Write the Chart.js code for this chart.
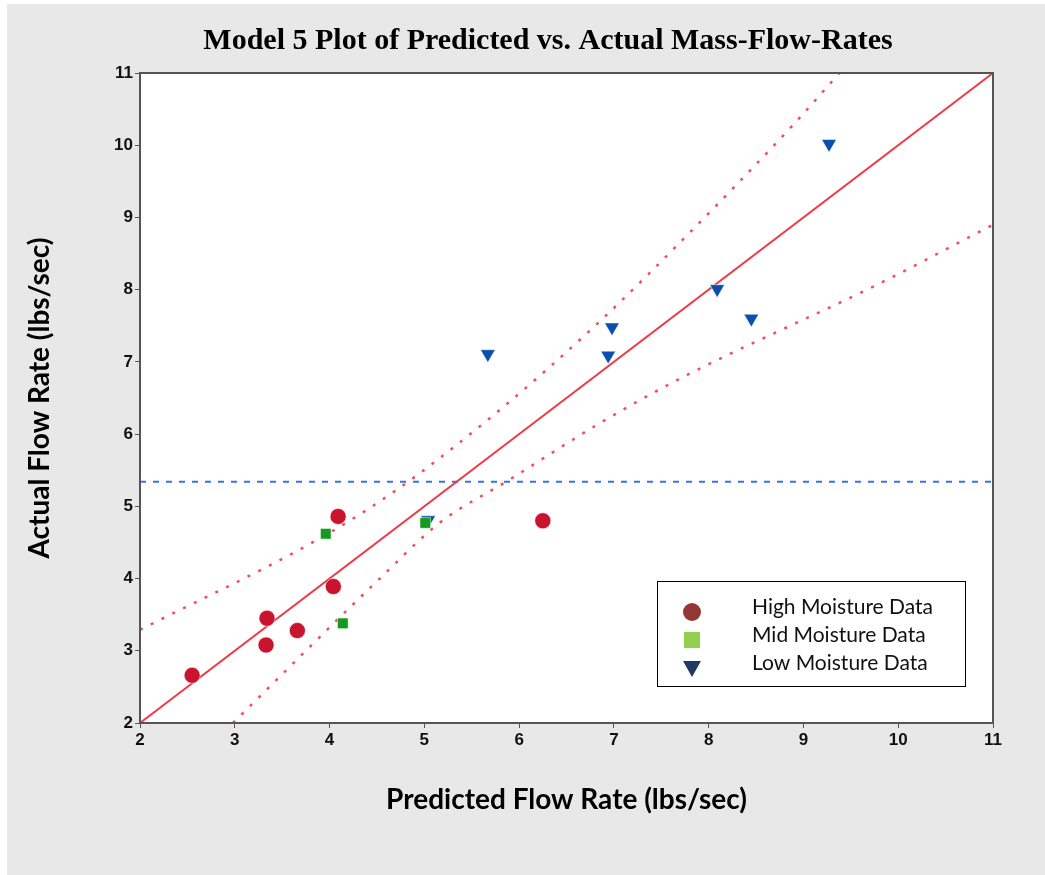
<!DOCTYPE html>
<html>
<head>
<meta charset="utf-8">
<script src="https://cdn.jsdelivr.net/npm/chart.js@4"></script>
<style>
  body { margin: 0; background: #fff; }
  #wrap { width: 1045px; height: 875px; }
</style>
</head>
<body>
<div id="wrap"><canvas id="myChart" width="1045" height="875"></canvas></div>
<script>
// values
var highX = [2.55, 3.33, 3.34, 3.66, 4.04, 4.09, 6.25];
var highY = [2.66, 3.08, 3.45, 3.28, 3.89, 4.86, 4.80];
var midX = [3.96, 4.14, 5.01];
var midY = [4.62, 3.38, 4.77];
var lowX = [5.04, 5.67, 6.94, 6.98, 8.09, 8.45, 9.27];
var lowY = [4.81, 7.11, 7.09, 7.48, 8.01, 7.60, 10.02];

// fitted line and interval bands
var fitX = [2, 11];
var fitY = [2, 11];
var upperX = [2, 3.86, 4.71, 5.80, 6.85, 7.80, 8.89, 9.38];
var upperY = [3.29, 4.53, 5.23, 6.34, 7.56, 8.79, 10.28, 11];
var lowerX = [2.98, 4.53, 5.16, 5.90, 6.85, 7.70, 9.81, 11];
var lowerY = [2, 4.0, 4.77, 5.37, 6.15, 6.77, 8.09, 8.9];
var meanX = [2, 11];
var meanY = [5.34, 5.34];

var axisTicks = [2, 3, 4, 5, 6, 7, 8, 9, 10, 11];

function pts(xs, ys) {
    return xs.map(function (x, i) { return { x: x, y: ys[i] }; });
}

// grey page + white plot area
var bgPlugin = {
    id: 'bg',
    beforeDraw: function (chart) {
        var c = chart.ctx, a = chart.chartArea;
        c.save();
        c.fillStyle = '#ffffff';
        c.fillRect(0, 0, chart.width, chart.height);
        c.fillStyle = '#e8e8e8';
        c.fillRect(7, 4, chart.width - 7, chart.height - 4);
        c.fillStyle = '#ffffff';
        c.fillRect(a.left, a.top, a.right - a.left, a.bottom - a.top);
        c.restore();
    },
    afterDraw: function (chart) {
        var c = chart.ctx, a = chart.chartArea;
        c.save();
        // frame
        c.strokeStyle = '#555555';
        c.lineWidth = 2;
        c.strokeRect(a.left, a.top, a.right - a.left, a.bottom - a.top);
        // title
        c.fillStyle = '#000000';
        c.font = 'bold 30px "Liberation Serif", "Times New Roman", serif';
        c.textAlign = 'center';
        c.textBaseline = 'middle';
        c.fillText('Model 5 Plot of Predicted vs. Actual Mass-Flow-Rates', 548, 41);
        c.restore();
    }
};

// legend box inside the plot
var legendPlugin = {
    id: 'boxLegend',
    afterDraw: function (chart) {
        var c = chart.ctx;
        var items = chart.data.datasets.filter(function (d) { return d.legendColor; });
        var bx = 657, by = 581, bw = 308, bh = 105;
        c.save();
        c.fillStyle = '#ffffff';
        c.fillRect(bx, by, bw, bh);
        c.strokeStyle = '#000000';
        c.lineWidth = 1;
        c.strokeRect(bx + 0.5, by + 0.5, bw, bh);
        c.font = '21px Lato, sans-serif';
        c.textBaseline = 'middle';
        c.textAlign = 'left';
        items.forEach(function (d, i) {
            var my = 612 + i * 28;
            var mx = 692;
            c.fillStyle = d.legendColor;
            c.beginPath();
            if (d.pointStyle === 'circle') {
                c.arc(mx, my, 9, 0, Math.PI * 2);
            } else if (d.pointStyle === 'rect') {
                c.rect(mx - 8, my - 8, 16, 16);
            } else {
                c.moveTo(mx - 9, my - 7);
                c.lineTo(mx + 9, my - 7);
                c.lineTo(mx, my + 9);
                c.closePath();
            }
            c.fill();
            c.fillStyle = '#111111';
            c.fillText(d.label, 752, my - 5);
        });
        c.restore();
    }
};

var ctx = document.getElementById('myChart').getContext('2d');
new Chart(ctx, {
    type: 'scatter',
    data: {
        datasets: [
            {
                label: 'High Moisture Data',
                data: pts(highX, highY),
                pointStyle: 'circle',
                pointRadius: 8,
                backgroundColor: '#c8142c',
                borderColor: '#ffffff',
                borderWidth: 0.5,
                legendColor: '#953735'
            },
            {
                label: 'Mid Moisture Data',
                data: pts(midX, midY),
                pointStyle: 'rect',
                pointRadius: 7.5,
                backgroundColor: '#149a1c',
                borderColor: '#ffffff',
                borderWidth: 0.5,
                legendColor: '#92d050'
            },
            {
                label: 'Low Moisture Data',
                data: pts(lowX, lowY),
                pointStyle: 'triangle',
                rotation: 180,
                pointRadius: 8.5,
                backgroundColor: '#0a4fad',
                borderColor: '#ffffff',
                borderWidth: 0.5,
                legendColor: '#1f3a60'
            },
            {
                label: 'Fit',
                data: pts(fitX, fitY),
                showLine: true,
                pointRadius: 0,
                borderColor: '#ee3b4b',
                borderWidth: 2
            },
            {
                label: 'Upper',
                data: pts(upperX, upperY),
                showLine: true,
                pointRadius: 0,
                cubicInterpolationMode: 'monotone',
                borderColor: '#f0505e',
                borderWidth: 2.5,
                borderDash: [3, 9]
            },
            {
                label: 'Lower',
                data: pts(lowerX, lowerY),
                showLine: true,
                pointRadius: 0,
                cubicInterpolationMode: 'monotone',
                borderColor: '#f0505e',
                borderWidth: 2.5,
                borderDash: [3, 9]
            },
            {
                label: 'Mean',
                data: pts(meanX, meanY),
                showLine: true,
                pointRadius: 0,
                borderColor: '#3a6ff0',
                borderWidth: 2,
                borderDash: [6, 7]
            }
        ]
    },
    options: {
        responsive: false,
        animation: false,
        layout: { padding: { left: 0, top: 73, right: 52, bottom: 0 } },
        plugins: {
            legend: { display: false },
            tooltip: { enabled: false }
        },
        scales: {
            x: {
                type: 'linear',
                min: 2,
                max: 11,
                afterBuildTicks: function (s) { s.ticks = axisTicks.map(function (v) { return { value: v }; }); },
                afterFit: function (s) { s.height = 152; },
                grid: { drawOnChartArea: false, drawTicks: true, tickLength: 5, color: '#555555' },
                border: { color: '#555555', width: 2 },
                ticks: { color: '#111111', padding: 2, maxRotation: 0, font: { family: 'Liberation Sans, Arial', size: 17, weight: 'bold' } },
                title: {
                    display: true,
                    text: 'Predicted Flow Rate (lbs/sec)',
                    color: '#000000',
                    font: { family: 'Lato', weight: 'bold', size: 28 },
                    padding: { top: 0, bottom: 58 }
                }
            },
            y: {
                type: 'linear',
                min: 2,
                max: 11,
                afterBuildTicks: function (s) { s.ticks = axisTicks.map(function (v) { return { value: v }; }); },
                afterFit: function (s) { s.width = 140; },
                grid: { drawOnChartArea: false, drawTicks: true, tickLength: 5, color: '#555555' },
                border: { color: '#555555', width: 2 },
                ticks: { color: '#111111', padding: 2, font: { family: 'Liberation Sans, Arial', size: 17, weight: 'bold' } },
                title: {
                    display: true,
                    text: 'Actual Flow Rate (lbs/sec)',
                    color: '#000000',
                    font: { family: 'Lato', weight: 'bold', size: 28 },
                    padding: { top: 23, bottom: 0 }
                }
            }
        }
    },
    plugins: [bgPlugin, legendPlugin]
});
</script>
</body>
</html>
